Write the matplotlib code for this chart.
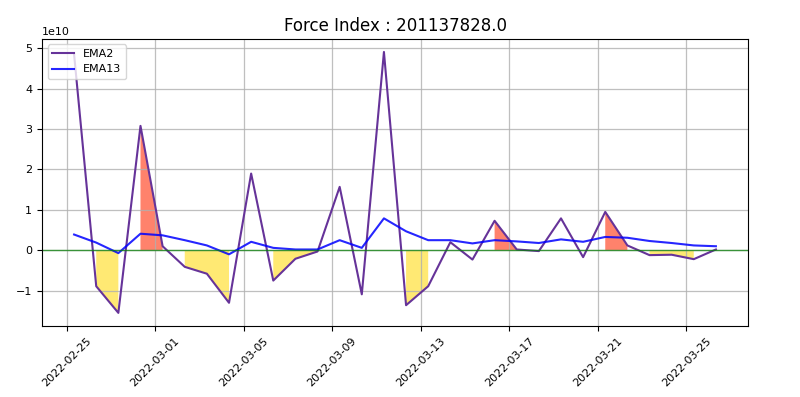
import numpy as np
import pandas as pd
import matplotlib
matplotlib.use('Agg')
import matplotlib.pyplot as plt
import matplotlib.dates as mdates

# daily force index values (units of 1e10)
dates = pd.date_range('2022-02-25 08:00', periods=30, freq='D')
ema2 = [4.85, -0.89, -1.55, 3.08, 0.10, -0.41, -0.58, -1.30, 1.90, -0.75,
        -0.21, -0.03, 1.57, -1.09, 4.91, -1.36, -0.89, 0.20, -0.23, 0.73,
        0.02, -0.02, 0.79, -0.17, 0.95, 0.12, -0.12, -0.11, -0.22, 0.02]
ema13 = [0.39, 0.19, -0.07, 0.41, 0.37, 0.25, 0.12, -0.10, 0.21, 0.06,
         0.02, 0.02, 0.25, 0.06, 0.79, 0.47, 0.25, 0.25, 0.17, 0.25,
         0.22, 0.18, 0.27, 0.21, 0.33, 0.31, 0.23, 0.18, 0.12, 0.10]
# days shaded red (buy) / yellow (sell)
red_days = [3, 4, 19, 20, 24, 25]
yellow_days = [1, 2, 5, 6, 7, 9, 10, 11, 15, 16, 26, 27, 28]
force_index = 201137828.0

ema2 = np.array(ema2) * 1e10
ema13 = np.array(ema13) * 1e10
red = np.isin(np.arange(len(dates)), red_days)
yellow = np.isin(np.arange(len(dates)), yellow_days)

fig = plt.figure(figsize=(8, 3.97), dpi=100)
ax = fig.add_axes([0.0525, 0.179, 0.8825, 0.723])

ax.plot(dates, ema2, color='rebeccapurple', lw=1.5, label='EMA2')
ax.plot(dates, ema13, color='blue', lw=1.5, alpha=0.85, label='EMA13')
ax.axhline(0, color='green', lw=1, alpha=0.7)
ax.fill_between(dates, ema2, 0, where=red, color='tomato', alpha=0.8, lw=0)
ax.fill_between(dates, ema2, 0, where=yellow, color='gold', alpha=0.55, lw=0)

ax.set_xticks(pd.date_range('2022-02-25', '2022-03-25', freq='4D'))
ax.xaxis.set_major_formatter(mdates.DateFormatter('%Y-%m-%d'))
plt.setp(ax.get_xticklabels(), rotation=45, fontsize=8)
ax.tick_params(axis='y', labelsize=8)
ax.yaxis.get_offset_text().set_fontsize(8)
ax.grid(True, color='#b0b0b0', lw=0.9, alpha=0.8)
ax.legend(loc='upper left', fontsize=8)
ax.set_title('Force Index : ' + str(force_index), fontsize=12)

fig.savefig('out.png', dpi=100)
